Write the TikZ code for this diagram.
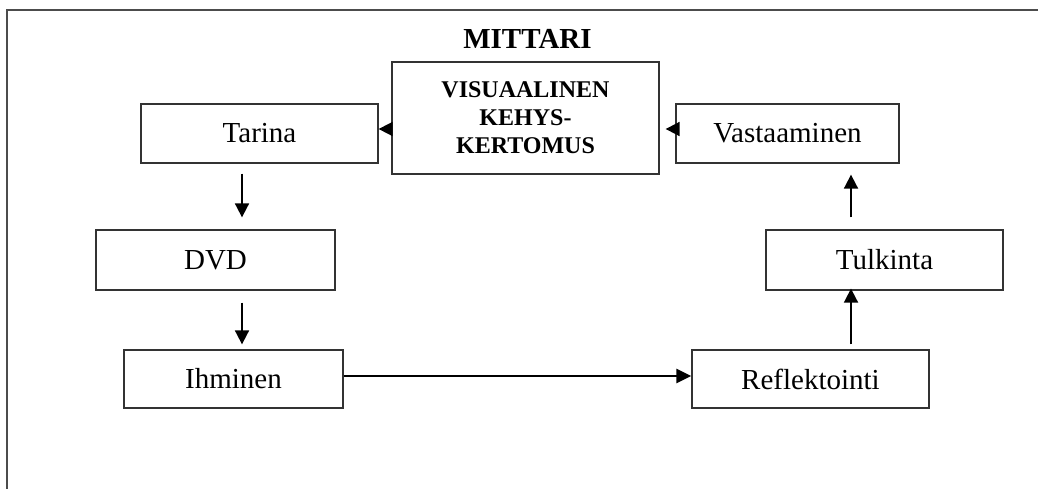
\documentclass[tikz,border=0pt]{standalone}
\usepackage{fontspec}
\setmainfont{Liberation Serif}
\usetikzlibrary{arrows.meta,calc}
\begin{document}
\begin{tikzpicture}[x=1pt,y=-1pt,
  box/.style={draw=black!80,line width=1.3pt,inner sep=0pt,
    font=\fontsize{29}{34}\selectfont},
  flow/.style={line width=1.8pt,-{Triangle[length=14pt,width=14pt]}},
  mainflow/.style={line width=2.8pt,-{Triangle[length=15pt,width=14pt]}}]
\useasboundingbox (0,0) rectangle (1038,488);
% outer frame (only the top and left edges lie inside the page)
\draw[black!70,line width=1.5pt] (7,490) -- (7,10) -- (1040,10);

\node (title) at (527.5,38.5) {\bfseries\fontsize{29}{34}\selectfont MITTARI};

\node[box,minimum width=267pt,minimum height=112pt,align=center,
      font=\bfseries\fontsize{24}{28}\selectfont]
  (vis) at (525.5,118) {VISUAALINEN\\KEHYS-\\KERTOMUS};
\node[box,minimum width=237pt,minimum height=59pt] (tarina) at (259.5,133.5) {Tarina};
\node[box,minimum width=223pt,minimum height=59pt] (vast) at (787.5,133.5) {Vastaaminen};
\node[box,minimum width=239pt,minimum height=60pt] (dvd) at (215.5,260) {DVD};
\node[box,minimum width=237pt,minimum height=60pt] (tulk) at (884.5,260) {Tulkinta};
\node[box,minimum width=219pt,minimum height=58pt] (ihm) at (233.5,379) {Ihminen};
\node[box,minimum width=237pt,minimum height=58pt] (refl) at (810.5,379) {Reflektointi};

% connectors
\draw[flow] ($(tarina.south)+(-17.5,10)$) -- ($(dvd.north)+(26.5,-12)$);
\draw[flow] ($(dvd.south)+(26.5,12)$) -- ($(ihm.north)+(8.5,-5)$);
\draw[mainflow] ($(ihm.east)+(0,-3)$) -- ($(refl.west)+(0,-3)$);
\draw[flow] ($(refl.north)+(40.5,-5)$) -- ($(tulk.south)+(-33.5,-2)$);
\draw[flow] ($(tulk.north)+(-33.5,-12)$) -- ($(vast.south)+(63.5,11)$);
\draw[flow] ($(vast.west)+(0,-4.5)$) -- ($(vis.east)+(6,11)$);
\draw[flow] ($(vis.west)+(0,11)$) -- ($(tarina.east)+(0,-4.5)$);
\end{tikzpicture}
\end{document}
